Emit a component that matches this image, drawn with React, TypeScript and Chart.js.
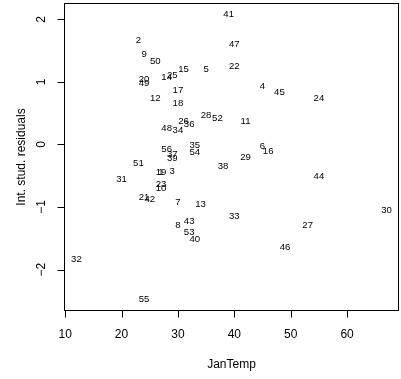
import React, { useEffect, useRef } from "react";
import { Chart, registerables } from "chart.js";

Chart.register(...registerables);

const ids = [
  1, 2, 3, 4, 5, 6, 7, 8, 9, 10, 11, 12, 13, 14, 15, 16, 17, 18, 19, 20, 21, 22, 23, 24, 25, 26, 27, 28,
  29, 30, 31, 32, 33, 34, 35, 36, 37, 38, 39, 40, 41, 42, 43, 44, 45, 46, 47, 48, 49, 50, 51, 52, 53, 54,
  55, 56,
];
const janTemp = [
  27, 23, 29, 45, 35, 45, 30, 30, 24, 27, 42, 26, 34, 28, 31, 46, 30, 30, 27, 24, 24, 40, 27, 55, 29, 31,
  53, 35, 42, 67, 20, 12, 40, 30, 33, 32, 29, 38, 29, 33, 39, 25, 32, 55, 48, 49, 40, 28, 24, 26, 23, 37,
  32, 33, 24, 28,
];
const residuals = [
  -0.44, 1.67, -0.43, 0.93, 1.2, -0.03, -0.93, -1.3, 1.44, -0.7, 0.37, 0.74, -0.95, 1.07, 1.2, -0.11, 0.87,
  0.66, -0.45, 1.04, -0.85, 1.25, -0.64, 0.74, 1.11, 0.37, -1.3, 0.47, -0.21, -1.06, -0.55, -1.83, -1.15,
  0.22, -0.02, 0.32, -0.16, -0.35, -0.22, -1.51, 2.08, -0.88, -1.23, -0.51, 0.83, -1.65, 1.6, 0.26, 0.98,
  1.33, -0.3, 0.42, -1.41, -0.13, -2.48, -0.08,
];
const xTicks = [10, 20, 30, 40, 50, 60];
const yTicks = [-2, -1, 0, 1, 2];
const xTitle = "JanTemp";
const yTitle = "Int. stud. residuals";

const FONT = "'Liberation Sans', Arial, Helvetica, sans-serif";

function ext(vals: number[]) {
  const lo = Math.min(...vals);
  const hi = Math.max(...vals);
  const d = (hi - lo) * 0.04;
  return [lo - d, hi + d];
}

const rAxesPlugin = {
  id: "rAxes",
  afterDraw(chart: any) {
    const { ctx, chartArea: a, scales } = chart;
    const xs = scales.x;
    const ys = scales.y;
    ctx.save();
    // points as labels
    ctx.fillStyle = "#000";
    ctx.font = `9.6px ${FONT}`;
    ctx.textAlign = "center";
    ctx.textBaseline = "middle";
    ids.forEach((id, i) => {
      ctx.fillText(String(id), xs.getPixelForValue(janTemp[i]), ys.getPixelForValue(residuals[i]));
    });
    // box
    ctx.strokeStyle = "#000";
    ctx.lineWidth = 1;
    ctx.strokeRect(Math.round(a.left) + 0.5, Math.round(a.top) + 0.5, Math.round(a.right - a.left) - 1, Math.round(a.bottom - a.top) - 1);
    // x axis
    const by = Math.round(a.bottom) - 0.5;
    ctx.beginPath();
    const x0 = Math.round(xs.getPixelForValue(xTicks[0])) + 0.5;
    const x1 = Math.round(xs.getPixelForValue(xTicks[xTicks.length - 1])) + 0.5;
    ctx.moveTo(x0, by);
    ctx.lineTo(x1, by);
    xTicks.forEach((t) => {
      const px = Math.round(xs.getPixelForValue(t)) + 0.5;
      ctx.moveTo(px, by);
      ctx.lineTo(px, by + 7);
    });
    ctx.stroke();
    ctx.font = `12px ${FONT}`;
    ctx.fillStyle = "#000";
    xTicks.forEach((t) => {
      ctx.fillText(String(t), xs.getPixelForValue(t), a.bottom + 24);
    });
    ctx.fillText(xTitle, (a.left + a.right) / 2, a.bottom + 54);
    // y axis
    const lx = Math.round(a.left) + 0.5;
    ctx.beginPath();
    const y0 = Math.round(ys.getPixelForValue(yTicks[0])) + 0.5;
    const y1 = Math.round(ys.getPixelForValue(yTicks[yTicks.length - 1])) + 0.5;
    ctx.moveTo(lx, y0);
    ctx.lineTo(lx, y1);
    yTicks.forEach((t) => {
      const py = Math.round(ys.getPixelForValue(t)) + 0.5;
      ctx.moveTo(lx, py);
      ctx.lineTo(lx - 7, py);
    });
    ctx.stroke();
    yTicks.forEach((t) => {
      ctx.save();
      ctx.translate(a.left - 22.5, ys.getPixelForValue(t));
      ctx.rotate(-Math.PI / 2);
      ctx.fillText(t < 0 ? "\u2212" + String(-t) : String(t), 0, 0);
      ctx.restore();
    });
    ctx.save();
    ctx.translate(a.left - 42.5, (a.top + a.bottom) / 2);
    ctx.rotate(-Math.PI / 2);
    ctx.fillText(yTitle, 0, 0);
    ctx.restore();
    ctx.restore();
  },
};

export default function App() {
  const ref = useRef<HTMLCanvasElement | null>(null);
  useEffect(() => {
    document.body.style.margin = "0";
    const [xmin, xmax] = ext(janTemp);
    const [ymin, ymax] = ext(residuals);
    const chart = new Chart(ref.current as HTMLCanvasElement, {
      type: "scatter",
      data: {
        datasets: [
          {
            data: janTemp.map((x, i) => ({ x, y: residuals[i] })),
            pointRadius: 0,
            pointHoverRadius: 0,
          },
        ],
      },
      options: {
        responsive: false,
        animation: false,
        layout: { padding: { left: 64, top: 3, right: 2, bottom: 68 } },
        plugins: { legend: { display: false }, tooltip: { enabled: false } },
        events: [],
        scales: {
          x: { type: "linear", display: false, min: xmin, max: xmax },
          y: { type: "linear", display: false, min: ymin, max: ymax },
        },
      },
      plugins: [rAxesPlugin],
    });
    return () => chart.destroy();
  }, []);
  return <canvas ref={ref} width={401} height={379} style={{ display: "block" }} />;
}
